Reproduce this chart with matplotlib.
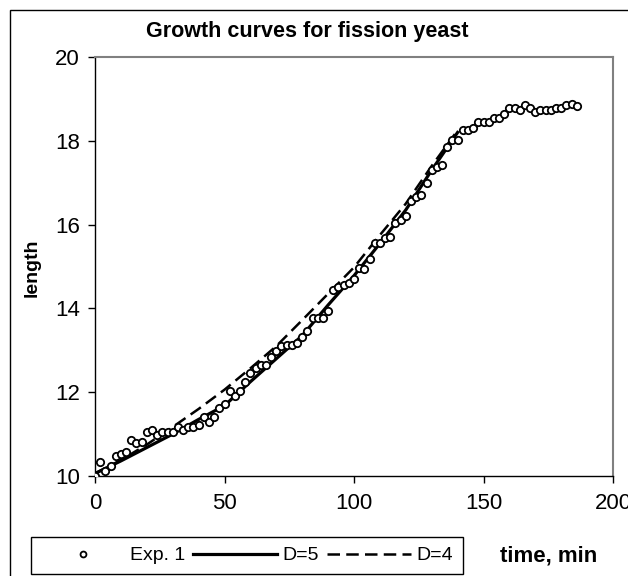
import matplotlib
matplotlib.use("Agg")
import matplotlib.pyplot as plt
from matplotlib.patches import Rectangle

plt.rcParams["font.family"] = ["Liberation Sans", "DejaVu Sans"]

# experimental data, every 2 min
TIME = [0, 2, 4, 6, 8, 10, 12, 14, 16, 18, 20, 22, 24, 26, 28, 30, 32, 34, 36, 38,
        40, 42, 44, 46, 48, 50, 52, 54, 56, 58, 60, 62, 64, 66, 68, 70, 72, 74, 76, 78,
        80, 82, 84, 86, 88, 90, 92, 94, 96, 98, 100, 102, 104, 106, 108, 110, 112, 114,
        116, 118, 120, 122, 124, 126, 128, 130, 132, 134, 136, 138, 140, 142, 144, 146,
        148, 150, 152, 154, 156, 158, 160, 162, 164, 166, 168, 170, 172, 174, 176, 178,
        180, 182, 184, 186]
LENGTH = [10.00, 10.34, 10.13, 10.24, 10.48, 10.53, 10.58, 10.86, 10.78, 10.82,
          11.06, 11.10, 10.97, 11.06, 11.06, 11.06, 11.16, 11.10, 11.16, 11.18,
          11.21, 11.40, 11.30, 11.40, 11.62, 11.72, 12.02, 11.92, 12.02, 12.25,
          12.46, 12.58, 12.66, 12.64, 12.84, 12.98, 13.10, 13.12, 13.12, 13.18,
          13.31, 13.47, 13.76, 13.78, 13.76, 13.94, 14.44, 14.52, 14.57, 14.61,
          14.69, 14.97, 14.93, 15.17, 15.55, 15.57, 15.67, 15.71, 16.04, 16.12,
          16.20, 16.57, 16.65, 16.70, 16.99, 17.31, 17.38, 17.43, 17.86, 18.01,
          18.01, 18.25, 18.25, 18.30, 18.45, 18.45, 18.45, 18.54, 18.54, 18.65,
          18.78, 18.78, 18.73, 18.85, 18.78, 18.69, 18.73, 18.73, 18.73, 18.78,
          18.78, 18.85, 18.89, 18.82]

# model curves
MODEL_TIME = [0, 10, 20, 30, 40, 50, 60, 70, 80, 90, 100, 110, 120, 130, 140]
D5 = [10.06, 10.36, 10.68, 11.00, 11.35, 11.68, 12.25, 12.80, 13.35, 14.08,
      14.78, 15.55, 16.35, 17.30, 18.20]
D4 = [10.06, 10.38, 10.75, 11.17, 11.60, 12.06, 12.57, 13.10, 13.72, 14.35,
      14.98, 15.75, 16.50, 17.40, 18.25]


def main() -> None:
    fig = plt.figure(figsize=(6.28, 5.76), dpi=100)
    ax = fig.add_axes([95 / 628, 1 - 476 / 576, 518 / 628, 419 / 576])

    ax.plot(TIME, LENGTH, linestyle="none", marker="o", markersize=5.3,
            markerfacecolor="white", markeredgecolor="black", markeredgewidth=1.3,
            label="Exp. 1", zorder=3)
    ax.plot(MODEL_TIME, D5, color="black", linewidth=2.3, label="D=5", zorder=2)
    ax.plot(MODEL_TIME, D4, color="black", linewidth=1.8, dashes=(5, 2.5),
            label="D=4", zorder=2)

    ax.set_xlim(0, 200)
    ax.set_ylim(10, 20)
    ax.set_xticks([0, 50, 100, 150, 200])
    ax.set_yticks([10, 12, 14, 16, 18, 20])
    ax.tick_params(direction="out", length=5, width=1, labelsize=16, pad=6)
    ax.tick_params(axis="x", pad=7)

    for side in ["top", "right"]:
        ax.spines[side].set_color("#808080")
        ax.spines[side].set_linewidth(1.5)
    for side in ["left", "bottom"]:
        ax.spines[side].set_color("black")
        ax.spines[side].set_linewidth(1.0)

    fig.text(0.49, 1 - 32 / 576, "Growth curves for fission yeast", ha="center",
             va="center", fontsize=15.5, fontweight="bold")
    fig.text(32 / 628, 1 - 268 / 576, "length", rotation=90, ha="center",
             va="center", fontsize=14, fontweight="bold")
    fig.text(549 / 628, 1 - 556 / 576, "time, min", ha="center", va="center",
             fontsize=16, fontweight="bold")

    leg = fig.legend(loc="upper left", bbox_to_anchor=(31 / 628, 1 - 537 / 576),
                     ncol=3, fontsize=14, handlelength=4.3, handletextpad=0.3,
                     columnspacing=0.4, fancybox=False, framealpha=1,
                     edgecolor="black", borderpad=0.5, borderaxespad=0,
                     markerscale=0.8)
    leg.get_frame().set_linewidth(1.0)

    # outer chart frame
    fig.patches.append(Rectangle((10 / 628, -0.1), 1.2, 1.1 - 10 / 576,
                                 transform=fig.transFigure, fill=False,
                                 edgecolor="black", linewidth=1.0))

    fig.savefig("out.png", dpi=100)
    plt.close(fig)


if __name__ == "__main__":
    main()
